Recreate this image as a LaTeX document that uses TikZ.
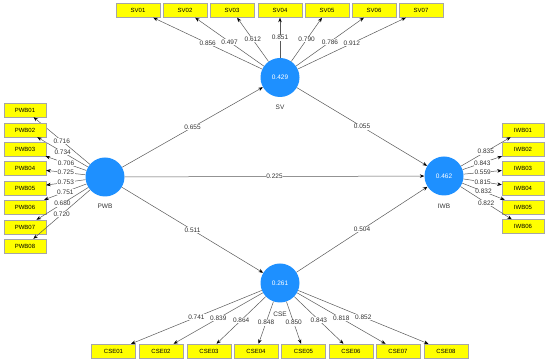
\documentclass[tikz,border=0pt]{standalone}
\usepackage{fontspec}
\setmainfont{Liberation Sans}
\usetikzlibrary{arrows.meta}
\definecolor{lvblue}{RGB}{30,144,255}
\definecolor{ind}{RGB}{255,255,0}
\tikzset{
  lv/.style={circle,fill=lvblue,draw=none,minimum size=39pt,inner sep=0pt,text=white,font=\fontsize{6.5}{7}\selectfont},
  ibox/.style={rectangle,fill=ind,draw=black!35,line width=0.4pt,minimum width=42pt,minimum height=14pt,inner sep=0pt,font=\fontsize{6}{7}\selectfont},
  vbox/.style={ibox,minimum width=44pt},
  lvname/.style={font=\fontsize{6.5}{7}\selectfont,text=black!80},
  conn/.style={draw=black!65,line width=0.5pt,-{Stealth[length=4.5pt,width=3.5pt,black]}},
  wt/.style={fill=white,inner sep=0.6pt,font=\fontsize{6.5}{7}\selectfont,text=black!80}
}
\begin{document}
\begin{tikzpicture}[x=1pt,y=-1pt]
\useasboundingbox (0,0) rectangle (550,363);
% latent variables
\node[lv] (PWB) at (105,177) {};
\node[lv] (SV) at (280,77.5) {0.429};
\node[lv] (IWB) at (444,176) {0.462};
\node[lv] (CSE) at (280,283) {0.261};
\node[lvname] (PWBn) at (105,206) {PWB};
\node[lvname] (SVn) at (280,107) {SV};
\node[lvname] (IWBn) at (444,206) {IWB};
\node[lvname] (CSEn) at (280,314) {CSE};
% PWB indicators
\foreach \i/\y/\w in {1/110/0.716,2/130/0.734,3/149/0.706,4/168/0.725,5/188/0.753,6/207/0.751,7/227/0.680,8/246/0.720}{
  \node[ibox] (PWB0\i) at (25,\y) {PWB0\i};
  \draw[conn] (PWB) -- node[wt] {\w} (PWB0\i);
}
% SV indicators
\foreach \i/\x/\w in {1/138/0.856,2/185/0.497,3/232/0.612,4/280/0.851,5/327/0.790,6/374/0.786,7/421/0.912}{
  \node[vbox] (SV0\i) at (\x,10.5) {SV0\i};
  \draw[conn] (SV) -- node[wt] {\w} (SV0\i);
}
% IWB indicators
\foreach \i/\y/\w in {1/130/0.835,2/149/0.843,3/168.5/0.559,4/188/0.815,5/207/0.832,6/226.5/0.822}{
  \node[ibox] (IWB0\i) at (523,\y) {IWB0\i};
  \draw[conn] (IWB) -- node[wt] {\w} (IWB0\i);
}
% CSE indicators
\foreach \i/\x/\w in {1/113.5/0.741,2/161/0.839,3/209/0.864,4/256/0.848,5/303.5/0.850,6/351/0.843,7/398/0.818,8/446/0.852}{
  \node[vbox] (CSE0\i) at (\x,351) {CSE0\i};
  \draw[conn] (CSE) -- node[wt] {\w} (CSE0\i);
}
% structural paths
\draw[conn] (PWB) -- node[wt] {0.655} (SV);
\draw[conn] (SV) -- node[wt] {0.055} (IWB);
\draw[conn] (PWB) -- node[wt] {0.225} (IWB);
\draw[conn] (PWB) -- node[wt] {0.511} (CSE);
\draw[conn] (CSE) -- node[wt] {0.504} (IWB);
\end{tikzpicture}
\end{document}
